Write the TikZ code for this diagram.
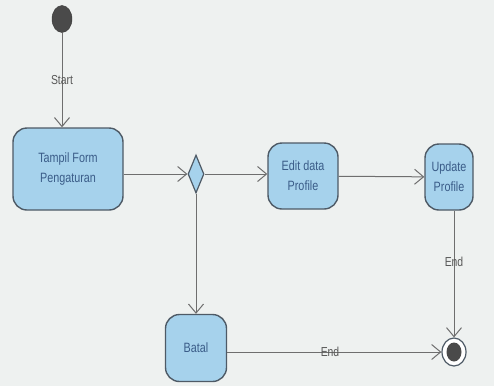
\documentclass[tikz,border=0pt]{standalone}
\usepackage{fontspec}
\setmainfont[FakeStretch=0.8]{Liberation Sans}
\usetikzlibrary{arrows.meta,shapes.geometric}
\definecolor{bg}{HTML}{EEF1F0}
\definecolor{boxfill}{HTML}{A6D2EC}
\definecolor{boxline}{HTML}{4E5A66}
\definecolor{txt}{HTML}{3A5C88}
\definecolor{conn}{HTML}{6E6E6E}
\definecolor{dot}{HTML}{4A4A4A}
\begin{document}
\begin{tikzpicture}[x=1pt,y=-1pt,
  act/.style={draw=boxline,fill=boxfill,line width=1.4pt,rounded corners=14pt,
    align=center,text=txt,font=\fontsize{13.5}{20}\selectfont,inner sep=0pt},
  lbl/.style={text=conn!80!black,font=\fontsize{13}{15}\selectfont,inner sep=1pt},
  flow/.style={draw=conn,line width=1pt,-{Straight Barb[length=9pt,width=15pt,line width=1pt]}},
  plain/.style={draw=conn,line width=1pt}]
\fill[bg] (0,0) rectangle (494,386);
\useasboundingbox (0,0) rectangle (494,386);
% initial
\node[ellipse,fill=dot,draw=dot!80!black,minimum width=20pt,minimum height=27pt,inner sep=0pt] (init) at (62,19) {};
% activities
\node[act,minimum width=110pt,minimum height=82pt] (tampil) at (68,169) {Tampil Form\\Pengaturan};
\node[diamond,draw=boxline,fill=boxfill,line width=1.2pt,minimum width=16pt,minimum height=38pt,inner sep=0pt,aspect=0.42] (dec) at (196,174) {};
\node[act,minimum width=70pt,minimum height=66pt] (edit) at (303,176) {Edit data\\Profile};
\node[act,minimum width=48pt,minimum height=66pt] (update) at (449,177) {Update\\Profile};
\node[act,minimum width=61pt,minimum height=67pt] (batal) at (196,348) {Batal};
% final
\node[ellipse,draw=boxline,fill=white,line width=1.2pt,minimum width=24pt,minimum height=28pt,inner sep=0pt] (final) at (454,352) {};
\node[ellipse,fill=dot,minimum width=15pt,minimum height=19pt,inner sep=0pt] (finalin) at (454,352) {};
% connectors
\draw[flow] (init.south) -- node[lbl,pos=0.5] {Start} (init.south |- tampil.north);
\draw[flow] (tampil.east |- dec.west) -- (dec.west);
\draw[flow] (dec.east) -- (edit.west |- dec.east);
\draw[flow] (edit) -- (update);
\draw[flow] (dec.south) -- (batal.north);
\draw[flow] (final.north |- update.south) -- node[lbl,pos=0.4] {End} (final.north);
\draw[flow] (batal.east |- final.west) -- node[lbl,pos=0.48] {End} (final.west);
\end{tikzpicture}
\end{document}
